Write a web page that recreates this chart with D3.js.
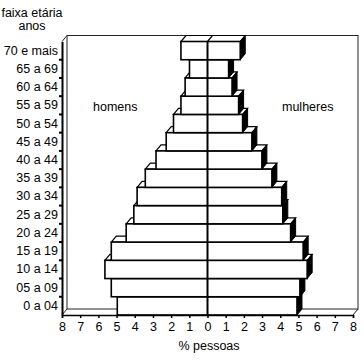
<!DOCTYPE html>
<html>
<head>
<meta charset="utf-8">
<script src="https://cdn.jsdelivr.net/npm/d3@7"></script>
<style>
  html, body { margin: 0; padding: 0; background: #fff; }
  svg { display: block; }
  text { font-family: "Liberation Sans", Arial, sans-serif; font-size: 12.5px; fill: #000; }
</style>
</head>
<body>
<script>
// Age groups, top to bottom
const ageGroups = ["70 e mais", "65 a 69", "60 a 64", "55 a 59", "50 a 54", "45 a 49", "40 a 44",
  "35 a 39", "30 a 34", "25 a 29", "20 a 24", "15 a 19", "10 a 14", "05 a 09", "0 a 04"];
// % of population, men (left) and women (right)
const homens   = [1.46, 0.99, 1.23, 1.46, 1.87, 2.27, 2.83, 3.42, 3.87, 4.05, 4.47, 5.29, 5.64, 5.29, 4.96];
const mulheres = [1.80, 1.16, 1.35, 1.71, 1.93, 2.44, 2.99, 3.54, 4.08, 4.14, 4.57, 5.26, 5.48, 5.08, 4.92];
const xTickValues = [-8, -7, -6, -5, -4, -3, -2, -1, 0, 1, 2, 3, 4, 5, 6, 7, 8];
const yTitle = ["faixa etária", "anos"];
const xTitle = "% pessoas";
const seriesNames = ["homens", "mulheres"];

const W = 364, H = 360;
const svg = d3.select("body").append("svg").attr("width", W).attr("height", H);

const x = d3.scaleLinear().domain([-8, 8]).range([62, 353]);
const y = d3.scaleBand().domain(ageGroups).range([41.5, 315]).paddingInner(0).paddingOuter(0);
const dx = 5, dy = 6;
const yTop = y.range()[0], yBot = y.range()[1];
const xL = x.range()[0], xR = x.range()[1];

// 3D back wall and floor
const wall = svg.append("g").attr("fill", "none").attr("stroke", "#222").attr("stroke-width", 1);
wall.append("rect").attr("x", xL + dx).attr("y", yTop - dy)
  .attr("width", xR - xL).attr("height", yBot - yTop).attr("fill", "#fff");
wall.append("line").attr("x1", xL).attr("y1", yTop).attr("x2", xL + dx).attr("y2", yTop - dy);
wall.append("line").attr("x1", xL).attr("y1", yBot).attr("x2", xL + dx).attr("y2", yBot - dy);
wall.append("line").attr("x1", xR).attr("y1", yBot).attr("x2", xR + dx).attr("y2", yBot - dy);

// Bars, drawn from bottom to top so upper boxes hide lower top faces
const bars = svg.append("g");
const idx = d3.range(ageGroups.length).reverse();
idx.forEach(i => {
  const g = bars.append("g");
  const x0 = x(-homens[i]), x1 = x(mulheres[i]);
  const y0 = y(ageGroups[i]), y1 = y0 + y.bandwidth();
  // top face
  g.append("path")
    .attr("d", `M${x0},${y0}L${x1},${y0}L${x1 + dx},${y0 - dy}L${x0 + dx},${y0 - dy}Z`)
    .attr("fill", "#fff").attr("stroke", "#000").attr("stroke-width", 1.2);
  // side face
  g.append("path")
    .attr("d", `M${x1},${y0}L${x1 + dx},${y0 - dy}L${x1 + dx},${y1 - dy}L${x1},${y1}Z`)
    .attr("fill", "#000").attr("stroke", "#000").attr("stroke-width", 1);
  // front face
  g.append("rect").attr("x", x0).attr("y", y0).attr("width", x1 - x0).attr("height", y1 - y0)
    .attr("fill", "#fff").attr("stroke", "#000").attr("stroke-width", 1.6);
  // center divider on front + top face
  g.append("line").attr("x1", x(0)).attr("y1", y1).attr("x2", x(0)).attr("y2", y0)
    .attr("stroke", "#000").attr("stroke-width", 2);
  g.append("line").attr("x1", x(0)).attr("y1", y0).attr("x2", x(0) + dx).attr("y2", y0 - dy)
    .attr("stroke", "#000").attr("stroke-width", 1.2);
});

// Y axis
const yAxis = d3.axisLeft(y).tickSize(0).tickPadding(4);
const gy = svg.append("g").attr("transform", `translate(${xL},0)`).call(yAxis);
gy.select(".domain").attr("stroke", "#000").attr("stroke-width", 2);
gy.selectAll("text").style("font-family", "Liberation Sans, Arial, sans-serif")
  .style("font-size", "12.5px").attr("fill", "#000");
// band boundary ticks
svg.append("g").selectAll("line")
  .data(ageGroups.slice(1))
  .join("line")
  .attr("x1", xL - 3).attr("x2", xL)
  .attr("y1", d => y(d)).attr("y2", d => y(d))
  .attr("stroke", "#000").attr("stroke-width", 2);

// X axis
const xAxis = d3.axisBottom(x).tickValues(xTickValues).tickFormat(d => Math.abs(d)).tickSize(3).tickPadding(4);
const gx = svg.append("g").attr("transform", `translate(0,${yBot})`).call(xAxis);
gx.select(".domain").attr("stroke", "#000").attr("stroke-width", 1.5);
gx.selectAll(".tick line").attr("stroke", "#000").attr("stroke-width", 1.5);
gx.selectAll("text").style("font-family", "Liberation Sans, Arial, sans-serif")
  .style("font-size", "12.5px").attr("fill", "#000");

// Titles
svg.append("text").attr("x", 32).attr("y", 16.5).attr("text-anchor", "middle").text(yTitle[0]);
svg.append("text").attr("x", 32).attr("y", 29.5).attr("text-anchor", "middle").text(yTitle[1]);
svg.append("text").attr("x", 209).attr("y", 350).attr("text-anchor", "middle").text(xTitle);
svg.append("text").attr("x", 93).attr("y", 110.5).text(seriesNames[0]);
svg.append("text").attr("x", 282).attr("y", 110.5).text(seriesNames[1]);
</script>
</body>
</html>
